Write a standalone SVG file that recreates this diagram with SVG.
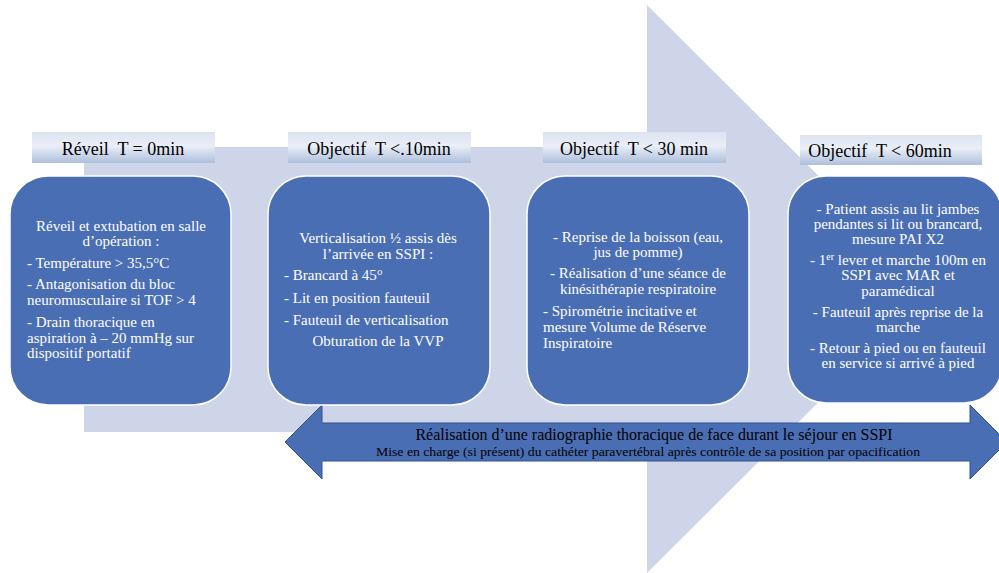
<svg xmlns="http://www.w3.org/2000/svg" width="999" height="573" viewBox="0 0 999 573">
<defs>
<linearGradient id="hg" x1="0" y1="0" x2="0" y2="1">
<stop offset="0" stop-color="#dde4f1"/>
<stop offset="0.45" stop-color="#e9eef7"/>
<stop offset="1" stop-color="#aebfdc"/>
</linearGradient>
<style>
.hdr{fill:url(#hg);}
.ht{font-family:"Liberation Serif","Times New Roman",serif;font-size:18px;fill:#000;text-anchor:middle;}
.box{fill:#4a6eb4;stroke:#ffffff;stroke-width:1.5;}
.bt{font-family:"Liberation Serif","Times New Roman",serif;font-size:15px;fill:#ffffff;}
.c{text-anchor:middle;}
.at{font-family:"Liberation Serif","Times New Roman",serif;fill:#000;text-anchor:middle;}
</style>
</defs>
<rect width="999" height="573" fill="#ffffff"/>
<polygon id="background-arrow" points="84,147 647,147 647,5 932,289 647,573 647,432 84,432" fill="#cfd5e8"/>

<g id="connectors">
<polygon id="bottom-arrow" points="285,442 322,405 322,423 970,423 970,405 1007,442 970,479 970,461 322,461 322,479" fill="#4a6eb4" stroke="#2f528f" stroke-width="1"/>
<text class="at" x="654" y="440" font-size="16">Réalisation d’une radiographie thoracique de face durant le séjour en SSPI</text>
<text class="at" x="648" y="456" font-size="13" textLength="544" lengthAdjust="spacingAndGlyphs">Mise en charge (si présent) du cathéter paravertébral après contrôle de sa position par opacification</text>
</g>

<g id="step1">
<rect class="hdr" x="32" y="132" width="183" height="31"/>
<text class="ht" x="123" y="155" xml:space="preserve">Réveil  T = 0min</text>
<rect class="box" x="10" y="176" width="221" height="229" rx="38" ry="38"/>
<text class="bt c" x="121" y="231">Réveil et extubation en salle</text>
<text class="bt c" x="121" y="246">d’opération :</text>
<text class="bt" x="27" y="268">- Température &gt; 35,5°C</text>
<text class="bt" x="27" y="289">- Antagonisation du bloc</text>
<text class="bt" x="27" y="305">neuromusculaire si TOF &gt; 4</text>
<text class="bt" x="27" y="327">- Drain thoracique en</text>
<text class="bt" x="27" y="343">aspiration à – 20 mmHg sur</text>
<text class="bt" x="27" y="358">dispositif portatif</text>
</g>

<g id="step2">
<rect class="hdr" x="288" y="132" width="183" height="31"/>
<text class="ht" x="379" y="155" xml:space="preserve">Objectif  T &lt;.10min</text>
<rect class="box" x="268" y="176" width="222" height="229" rx="38" ry="38"/>
<text class="bt c" x="378" y="243">Verticalisation ½ assis dès</text>
<text class="bt c" x="378" y="259">l’arrivée en SSPI :</text>
<text class="bt" x="284" y="280">- Brancard à 45°</text>
<text class="bt" x="284" y="303">- Lit en position fauteuil</text>
<text class="bt" x="284" y="325">- Fauteuil de verticalisation</text>
<text class="bt c" x="378" y="346">Obturation de la VVP</text>
</g>

<g id="step3">
<rect class="hdr" x="543" y="132" width="183" height="31"/>
<text class="ht" x="634" y="155" xml:space="preserve">Objectif  T &lt; 30 min</text>
<rect class="box" x="527" y="176" width="222" height="229" rx="38" ry="38"/>
<text class="bt c" x="638" y="242">- Reprise de la boisson (eau,</text>
<text class="bt c" x="638" y="257">jus de pomme)</text>
<text class="bt c" x="638" y="278">- Réalisation d’une séance de</text>
<text class="bt c" x="638" y="294">kinésithérapie respiratoire</text>
<text class="bt" x="543" y="316">- Spirométrie incitative et</text>
<text class="bt" x="543" y="332">mesure Volume de Réserve</text>
<text class="bt" x="543" y="348">Inspiratoire</text>
</g>

<g id="step4">
<rect class="hdr" x="800" y="135" width="182" height="30"/>
<text class="ht" x="880" y="157" xml:space="preserve">Objectif  T &lt; 60min</text>
<rect class="box" x="788" y="176" width="214" height="227" rx="38" ry="38"/>
<text class="bt c" x="898" y="214">- Patient assis au lit jambes</text>
<text class="bt c" x="898" y="229">pendantes si lit ou brancard,</text>
<text class="bt c" x="898" y="244">mesure PAI X2</text>
<text class="bt c" x="898" y="265">- 1<tspan font-size="10" dy="-5">er</tspan><tspan dy="5"> lever et marche 100m en</tspan></text>
<text class="bt c" x="898" y="280">SSPI avec MAR et</text>
<text class="bt c" x="898" y="296">paramédical</text>
<text class="bt c" x="898" y="317">- Fauteuil après reprise de la</text>
<text class="bt c" x="898" y="332">marche</text>
<text class="bt c" x="898" y="353">- Retour à pied ou en fauteuil</text>
<text class="bt c" x="898" y="368">en service si arrivé à pied</text>
</g>
</svg>
